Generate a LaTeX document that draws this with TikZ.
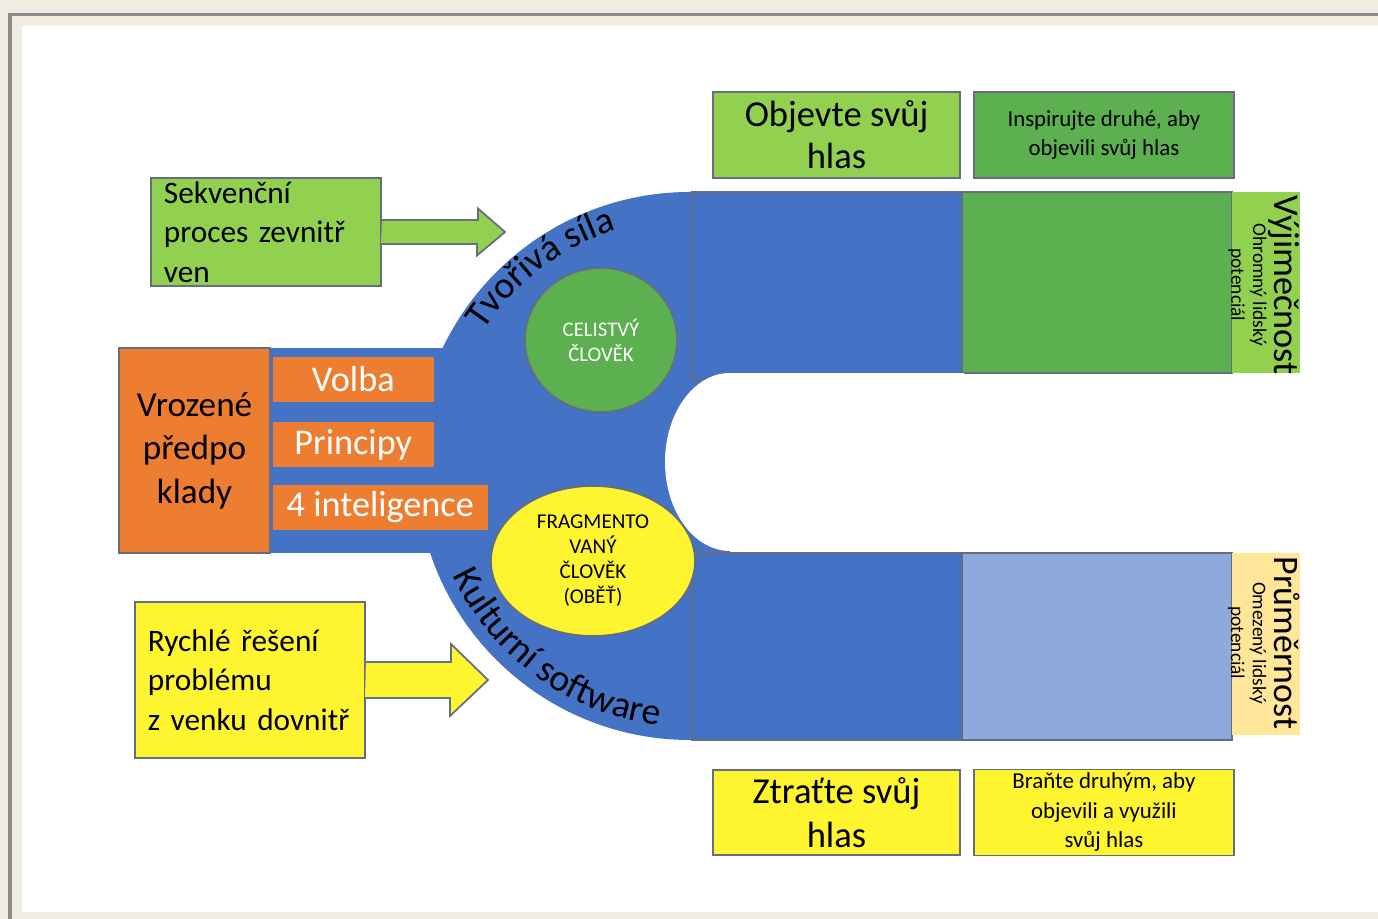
\documentclass[tikz,border=0pt]{standalone}
\usepackage{fontspec}
\setmainfont{Carlito}
\usepackage{tikz}
\usetikzlibrary{shapes.geometric,positioning,calc,decorations.text}
\definecolor{creambg}{RGB}{240,236,226}
\definecolor{framegray}{RGB}{140,140,140}
\definecolor{ublue}{RGB}{68,114,196}
\definecolor{greenmid}{RGB}{92,176,80}
\definecolor{limegreen}{RGB}{146,208,80}
\definecolor{orangebox}{RGB}{237,125,49}
\definecolor{yellowbox}{RGB}{255,244,48}
\definecolor{lightblue}{RGB}{142,169,219}
\definecolor{tanbox}{RGB}{255,230,153}
\definecolor{edgegray}{RGB}{100,110,128}

\begin{document}
\begin{tikzpicture}[
    x=0.01cm, y=0.01cm,
    edge/.style={draw=edgegray, line width=0.5pt},
    box/.style={rectangle, edge, align=center, inner sep=1pt, text=black},
    note/.style={box, text width=2.04cm, align=left, inner xsep=0.13cm, font=\fontsize{8.9}{11.2}\selectfont},
    tag/.style={rectangle, fill=orangebox, text=white, minimum height=0.45cm, inner sep=0pt, anchor=west, font=\fontsize{10.3}{12}\selectfont},
    blob/.style={ellipse, edge, align=center, inner sep=0pt},
    sidelabel/.style={rotate=-90, align=center, inner sep=0pt, font=\fontsize{5.5}{6.2}\selectfont},
    bend text/.style={decorate, decoration={text along path, text align=center, text={|\fontsize{10.7}{12}\selectfont|#1}}}
]
\useasboundingbox (0,0) rectangle (1378,919);

% paper and frame
\fill[creambg] (0,0) rectangle (1378,919);
\draw[framegray, line width=1pt] (10,0) -- (10,904.5) -- (1378,904.5);
\fill[white] (22,7) rectangle (1378,893);

% horseshoe
\coordinate (hc) at (690,453);
\fill[ublue] (690,727) arc[start angle=90, end angle=270, radius=274] -- (730,179) -- (730,727) -- cycle;
\fill[ublue] (270,366) rectangle (500,571);
\draw[edge, fill=ublue] (692,539) rectangle (962,727);
\draw[edge, fill=ublue] (692,179) rectangle (962,366);
\draw[edge, fill=greenmid] (962,546) rectangle (1232,727);
\fill[limegreen] (1232,546) rectangle (1300,727);
\draw[edge, fill=lightblue] (962,179) rectangle (1232,366);
\fill[tanbox] (1232,184) rectangle (1300,366);
\fill[white] (730,457) ellipse[x radius=65, y radius=89];
\fill[white] (730,368) rectangle (963.5,545.5);

\path[bend text={Tvořivá síla}] ($(hc)+(150:247)$) arc[start angle=150, end angle=104, radius=247];
\path[bend text={Kulturní software}] ($(hc)+(198:261)$) arc[start angle=198, end angle=270, radius=261];

\node[blob, fill=greenmid, minimum width=1.52cm, minimum height=1.44cm, text=white, font=\fontsize{5.9}{7.1}\selectfont] (whole) at (601,579) {CELISTVÝ\\ČLOVĚK};
\node[blob, fill=yellowbox, minimum width=2.04cm, minimum height=1.50cm, font=\fontsize{6}{7.1}\selectfont] (broken) at (593,358) {FRAGMENTO\\VANÝ\\ČLOVĚK\\(OBĚŤ)};

% left side
\node[box, fill=orangebox, minimum width=1.51cm, minimum height=2.05cm, font=\fontsize{10}{12.4}\selectfont] (innate) at (194.5,468.5) {Vrozené\\předpo\\klady};
\node[tag, minimum width=1.61cm] (choice) at (272,539.5) {Volba};
\node[tag, minimum width=1.61cm] (rules) at (272,474) {Principy};
\node[tag, minimum width=2.15cm] (smart) at (272,411.5) {4 inteligence};

\node[note, fill=limegreen, minimum height=1.08cm] (outward) at (266,687) {Sekvenční\\proces zevnitř\\ven};
\coordinate (outtip) at (505,687);
\draw[edge, fill=limegreen] ([yshift=0.12cm]outward.east) -- ++(96,0) -- ++(0,11.5) -- (outtip) -- ++(-28,-23.5) -- ++(0,11.5) -- ++(-96,0);

\node[note, fill=yellowbox, minimum height=1.56cm] (inward) at (250,239) {Rychlé řešení\\problému\\z venku dovnitř};
\coordinate (intip) at (488,239);
\draw[edge, fill=yellowbox] ([yshift=0.18cm]inward.east) -- ++(85,0) -- ++(0,18) -- (intip) -- ++(-38,-36) -- ++(0,18) -- ++(-85,0);

% top and bottom
\node[box, fill=limegreen, minimum width=2.47cm, minimum height=0.86cm, font=\fontsize{10.4}{12}\selectfont] (discover) at (836.5,784) {Objevte svůj\\hlas};
\node[box, fill=greenmid, minimum width=2.60cm, minimum height=0.86cm, font=\fontsize{6.5}{8.3}\selectfont, right=0.12cm of discover] (inspire) {Inspirujte druhé, aby\\objevili svůj hlas};
\node[box, fill=yellowbox, minimum width=2.47cm, minimum height=0.85cm, font=\fontsize{10.4}{12.6}\selectfont] (lose) at (836.5,106.5) {Ztraťte svůj\\hlas};
\node[box, fill=yellowbox, minimum width=2.60cm, minimum height=0.85cm, font=\fontsize{6.5}{8.4}\selectfont, right=0.12cm of lose] (hinder) {Braňte druhým, aby\\objevili a využili\\svůj hlas};

\node[sidelabel] (rare) at (1264,634) {{\fontsize{10.3}{11}\selectfont Výjimečnost}\\Ohromný lidský\\potenciál};
\node[sidelabel] (usual) at (1264,276) {{\fontsize{10.2}{11}\selectfont Průměrnost}\\Omezený lidský\\potenciál};
\end{tikzpicture}
\end{document}
